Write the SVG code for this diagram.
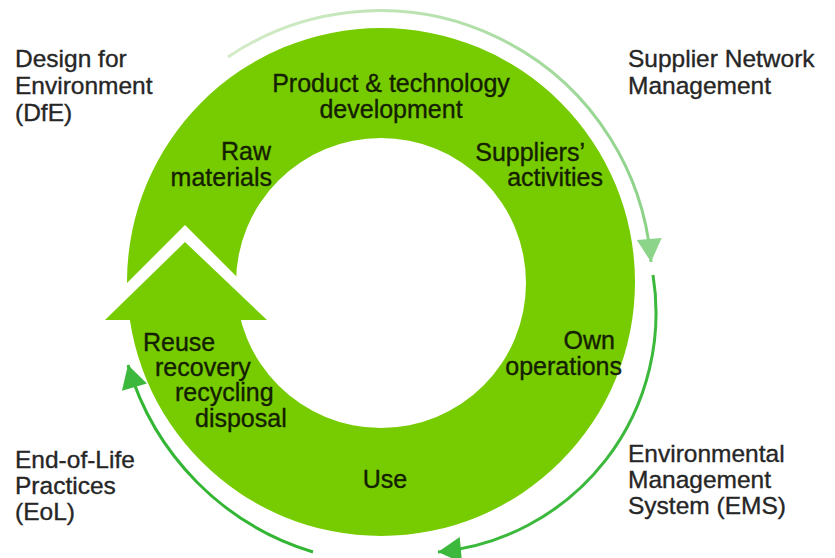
<svg xmlns="http://www.w3.org/2000/svg" width="835" height="558" viewBox="0 0 835 558">
  <style>
    .lbl { font-family: "Liberation Sans", Arial, sans-serif; font-size: 24.5px; fill: #262626; stroke: #262626; stroke-width: 0.35; }
    .in { font-family: "Liberation Sans", Arial, sans-serif; font-size: 25px; fill: #142000; stroke: #142000; stroke-width: 0.35; }
    .ring { fill: #76CC00; }
    .conn { fill: none; stroke-width: 3; }
  </style>
  <defs>
    <linearGradient id="paleGrad" gradientUnits="userSpaceOnUse" x1="228" y1="57" x2="651" y2="250">
      <stop offset="0" stop-color="#d3ebc7"/>
      <stop offset="1" stop-color="#88d184"/>
    </linearGradient>
    <marker id="headPale" markerUnits="userSpaceOnUse" markerWidth="30" markerHeight="30" viewBox="-26 -15 30 30" refX="0" refY="0" orient="auto">
      <path d="M0,0 L-23,-12.5 L-23,12.5 Z" fill="#8dd48b"/>
    </marker>
    <marker id="headGreen" markerUnits="userSpaceOnUse" markerWidth="30" markerHeight="30" viewBox="-26 -15 30 30" refX="0" refY="0" orient="auto">
      <path d="M0,0 L-23,-13 L-23,13 Z" fill="#3cb93c"/>
    </marker>
  </defs>
  <rect width="835" height="558" fill="#ffffff"/>

  <g id="cycle">
    <path class="ring" fill-rule="evenodd" d="M127,282 A254,254 0 1,0 635,282 A254,254 0 1,0 127,282 Z M236,283 A145,145 0 1,0 526,283 A145,145 0 1,0 236,283 Z"/>
    <polygon points="185,225 90,320 280,320" fill="#ffffff"/>
    <polygon class="ring" points="185,242 105,320 267,320"/>
  </g>

  <g id="connectors">
    <path class="conn" stroke="url(#paleGrad)" d="M228,57 A272,272 0 0 1 651,262" marker-end="url(#headPale)"/>
    <path class="conn" stroke="#3cb93c" d="M653,275 A240,240 0 0 1 438,552" marker-end="url(#headGreen)"/>
    <path class="conn" stroke="#33b633" d="M313,552 A276,276 0 0 1 128,365" marker-end="url(#headGreen)"/>
  </g>

  <g id="stage-product">
    <text class="in" x="391" y="92" text-anchor="middle">Product &amp; technology</text>
    <text class="in" x="391" y="118" text-anchor="middle">development</text>
  </g>
  <g id="stage-raw">
    <text class="in" x="271" y="160" text-anchor="end">Raw</text>
    <text class="in" x="272" y="186" text-anchor="end">materials</text>
  </g>
  <g id="stage-suppliers">
    <text class="in" x="585" y="161" text-anchor="end">Suppliers’</text>
    <text class="in" x="603" y="186" text-anchor="end">activities</text>
  </g>
  <g id="stage-own">
    <text class="in" x="615" y="349" text-anchor="end">Own</text>
    <text class="in" x="622" y="375" text-anchor="end">operations</text>
  </g>
  <g id="stage-use">
    <text class="in" x="385" y="488" text-anchor="middle">Use</text>
  </g>
  <g id="stage-reuse">
    <text class="in" x="143" y="351">Reuse</text>
    <text class="in" x="155" y="376">recovery</text>
    <text class="in" x="175" y="401">recycling</text>
    <text class="in" x="195" y="427">disposal</text>
  </g>

  <g id="dfe">
    <text class="lbl" x="15" y="67">Design for</text>
    <text class="lbl" x="15" y="94">Environment</text>
    <text class="lbl" x="15" y="121">(DfE)</text>
  </g>
  <g id="snm">
    <text class="lbl" x="628" y="67">Supplier Network</text>
    <text class="lbl" x="628" y="94">Management</text>
  </g>
  <g id="eol">
    <text class="lbl" x="15" y="468">End-of-Life</text>
    <text class="lbl" x="15" y="494">Practices</text>
    <text class="lbl" x="15" y="520">(EoL)</text>
  </g>
  <g id="ems">
    <text class="lbl" x="628" y="462">Environmental</text>
    <text class="lbl" x="628" y="488">Management</text>
    <text class="lbl" x="628" y="514">System (EMS)</text>
  </g>
</svg>
